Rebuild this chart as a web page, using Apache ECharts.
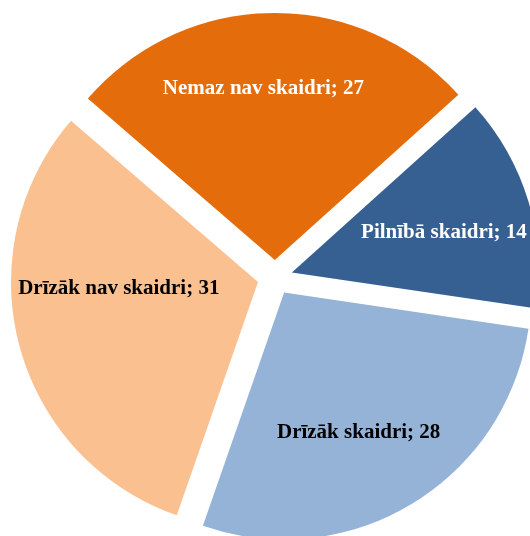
<!DOCTYPE html>
<html>
<head>
<meta charset="utf-8">
<script src="https://cdn.jsdelivr.net/npm/echarts@6/dist/echarts.min.js"></script>
<style>
  html, body { margin: 0; padding: 0; background: #fff; }
  #chart { width: 530px; height: 536px; }
</style>
</head>
<body>
<div id="chart"></div>
<script>
// dati
var categories = ['Pilnībā skaidri', 'Drīzāk skaidri', 'Drīzāk nav skaidri', 'Nemaz nav skaidri'];
var values = [14, 28, 31, 27];

var colors = ['#376092', '#95b3d7', '#fac090', '#e46c0a'];
var labelColors = ['#ffffff', '#000000', '#000000', '#ffffff'];
// label nudges (px) from the default inside position
var labelShift = [[31, -3], [9, 32], [-17, -26], [-10, -45]];

var chart = echarts.init(document.getElementById('chart'));

var pieData = categories.map(function (name, i) {
    return {
        name: name,
        value: values[i],
        selected: true,
        itemStyle: { color: colors[i] },
        label: { color: labelColors[i] }
    };
});

chart.setOption({
    animation: false,
    series: [
        {
            type: 'pie',
            center: [275, 277.5],
            radius: [0, 247],
            startAngle: 42,
            clockwise: true,
            selectedMode: 'multiple',
            selectedOffset: 17.6,
            silent: true,
            avoidLabelOverlap: false,
            label: {
                show: true,
                position: 'inside',
                formatter: '{b}; {c}',
                fontFamily: '"Liberation Serif", "Times New Roman", serif',
                fontWeight: 'bold',
                fontSize: 21,
                overflow: 'none'
            },
            labelLine: { show: false },
            labelLayout: function (params) {
                var s = labelShift[params.dataIndex];
                return { dx: s[0], dy: s[1] };
            },
            emphasis: { disabled: true },
            select: { itemStyle: { borderWidth: 0 } },
            data: pieData
        }
    ]
});
</script>
</body>
</html>
